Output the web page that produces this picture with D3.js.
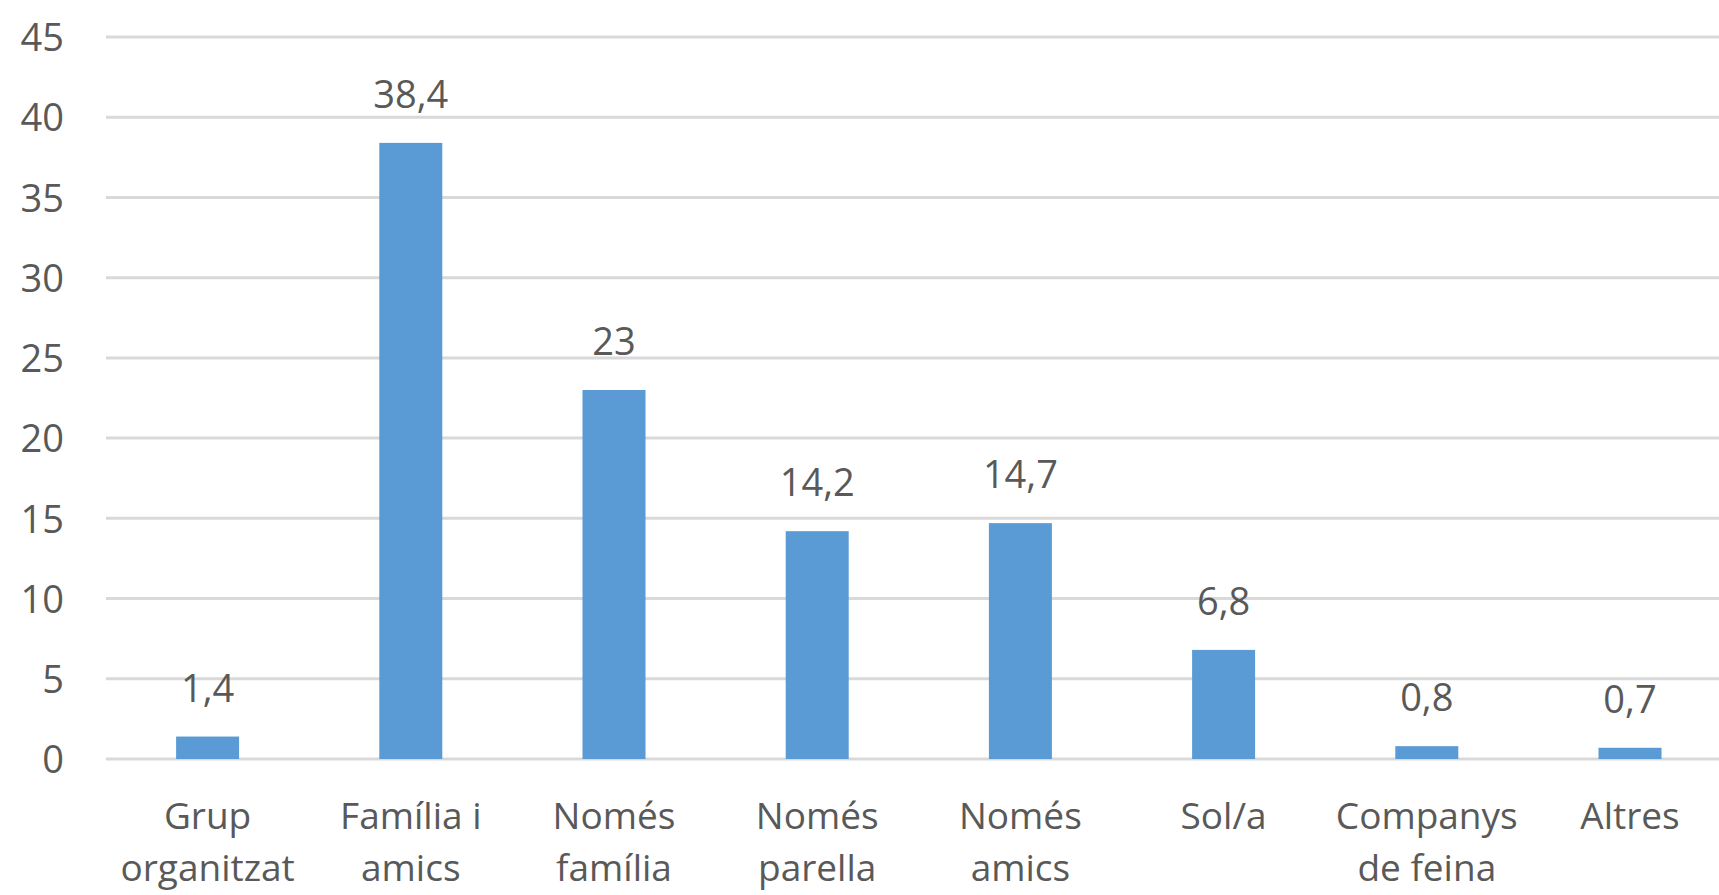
<!DOCTYPE html>
<html>
<head>
<meta charset="utf-8">
<script src="https://cdn.jsdelivr.net/npm/d3@7"></script>
<style>
html,body{margin:0;padding:0;background:#fff;overflow:hidden;}
svg{display:block;}
</style>
</head>
<body>
<div id="chart"></div>
<script>
const categories = [
  ["Grup","organitzat"],
  ["Família i","amics"],
  ["Només","família"],
  ["Només","parella"],
  ["Només","amics"],
  ["Sol/a"],
  ["Companys","de feina"],
  ["Altres"]
];
const values = [1.4, 38.4, 23, 14.2, 14.7, 6.8, 0.8, 0.7];
const yTicks = [0, 5, 10, 15, 20, 25, 30, 35, 40, 45];

const W = 1719, H = 895;
const font = "'Open Sans', sans-serif";
const textColor = "#595959";

const svg = d3.select("#chart").append("svg").attr("width", W).attr("height", H);

const x = d3.scaleBand().domain(d3.range(categories.length)).range([106, 106 + 8 * 203.2]).padding(0);
const y = d3.scaleLinear().domain([0, 45]).range([759, 37]);

const fmt = v => String(v).replace(".", ",");

// gridlines
svg.append("g").selectAll("line").data(yTicks).join("line")
  .attr("x1", 106).attr("x2", W + 20)
  .attr("y1", d => y(d)).attr("y2", d => y(d))
  .attr("stroke", "#d9d9d9").attr("stroke-width", 3);

// y axis labels
const yAxis = d3.axisLeft(y).tickValues(yTicks).tickSize(0).tickPadding(0).tickFormat(d => d);
const ga = svg.append("g").attr("transform", "translate(64,0)").call(yAxis);
ga.select(".domain").remove();
ga.selectAll("text")
  .attr("font-family", font).attr("font-size", 38).attr("fill", textColor)
  .attr("dy", "0.36em").attr("x", 0).attr("text-anchor", "end");

// bars
const bw = 63;
svg.append("g").selectAll("rect").data(values).join("rect")
  .attr("x", (d, i) => x(i) + x.bandwidth() / 2 - bw / 2)
  .attr("width", bw)
  .attr("y", d => y(d))
  .attr("height", d => y(0) - y(d))
  .attr("fill", "#5b9bd5");

// value labels
svg.append("g").selectAll("text").data(values).join("text")
  .attr("x", (d, i) => x(i) + x.bandwidth() / 2)
  .attr("y", d => y(d) - 35)
  .attr("text-anchor", "middle")
  .attr("font-family", font).attr("font-size", 38).attr("fill", textColor)
  .text(d => fmt(d));

// category labels
const cg = svg.append("g").selectAll("text").data(categories).join("text")
  .attr("x", (d, i) => x(i) + x.bandwidth() / 2)
  .attr("y", 829)
  .attr("text-anchor", "middle")
  .attr("font-family", font).attr("font-size", 37).attr("fill", textColor);
cg.selectAll("tspan").data(d => d).join("tspan")
  .attr("x", function() { return d3.select(this.parentNode).attr("x"); })
  .attr("dy", (d, i) => i === 0 ? 0 : 52)
  .text(d => d);
</script>
</body>
</html>
